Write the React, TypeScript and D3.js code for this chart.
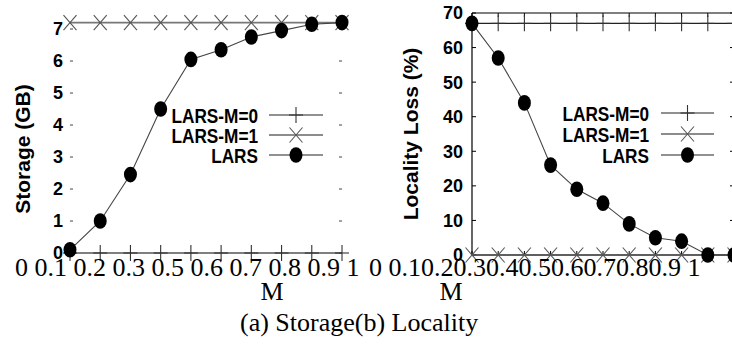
import React from "react";
import * as d3 from "d3";

// ---- data ----
const storageLabels = ["0", "0.1", "0.2", "0.3", "0.5", "0.6", "0.7", "0.8", "0.9", "1"];
const localityLabels = ["0", "0.1", "0.2", "0.3", "0.4", "0.5", "0.6", "0.7", "0.8", "0.9", "1"];
const storageTicks = [0, 1, 2, 3, 4, 5, 6, 7];
const localityTicks = [0, 10, 20, 30, 40, 50, 60, 70];
const storageLars = [0.1, 1.0, 2.45, 4.5, 6.05, 6.35, 6.75, 6.95, 7.15, 7.2];
const storageM0 = [0, 0, 0, 0, 0, 0, 0, 0, 0, 0];
const storageM1 = [7.2, 7.2, 7.2, 7.2, 7.2, 7.2, 7.2, 7.2, 7.2, 7.2];
const localityLars = [67, 57, 44, 26, 19, 15, 9, 5, 4, 0, 0];
const localityM0 = [67, 67, 67, 67, 67, 67, 67, 67, 67, 67, 67];
const localityM1 = [0, 0, 0, 0, 0, 0, 0, 0, 0, 0, 0];
const seriesNames = ["LARS-M=0", "LARS-M=1", "LARS"];
const caption = "(a) Storage(b) Locality";

const SANS = "'Liberation Sans', Arial, Helvetica, sans-serif";
const SERIF = "'Liberation Serif', 'Times New Roman', serif";

const Plus = ({ x, y, c = "#333" }: any) => (
  <g stroke={c} strokeWidth={1.1}>
    <line x1={x - 7} x2={x + 7} y1={y} y2={y} />
    <line x1={x} x2={x} y1={y - 8} y2={y + 8} />
  </g>
);
const Cross = ({ x, y, c = "#555" }: any) => (
  <g stroke={c} strokeWidth={1.1}>
    <line x1={x - 6.5} x2={x + 6.5} y1={y - 7.5} y2={y + 7.5} />
    <line x1={x - 6.5} x2={x + 6.5} y1={y + 7.5} y2={y - 7.5} />
  </g>
);
const Dot = ({ x, y }: any) => <ellipse cx={x} cy={y} rx={6.5} ry={7.8} fill="#000" />;

function Legend({ right, rows, lx1, lx2 }: any) {
  const mx = (lx1 + lx2) / 2;
  return (
    <g>
      {seriesNames.map((n, i) => {
        const y = rows[i];
        return (
          <g key={n}>
            <text
              transform={`translate(${right},${y}) scale(0.82,1)`}
              textAnchor="end"
              dy="0.36em"
              fontFamily={SANS}
              fontWeight="bold"
              fontSize={21}
              fill="#000"
            >
              {n}
            </text>
            <line x1={lx1} x2={lx2} y1={y} y2={y} stroke={i === 1 ? "#666" : "#222"} strokeWidth={i === 1 ? 1.6 : 1.1} />
            {i === 0 && <Plus x={mx} y={y} />}
            {i === 1 && <Cross x={mx} y={y} />}
            {i === 2 && <Dot x={mx} y={y} />}
          </g>
        );
      })}
    </g>
  );
}

export default function App() {
  // left chart
  const xL = d3.scaleLinear().domain([0, storageLars.length - 1]).range([70, 342]);
  const yL = d3.scaleLinear().domain([0, 7]).range([253, 29]);
  const lineL = d3.line<number>().x((_, i) => xL(i)).y((d) => yL(d));

  // right chart
  const xR = d3.scaleLinear().domain([0, localityLars.length - 1]).range([472, 734]);
  const yR = d3.scaleLinear().domain([0, 70]).range([255, 13]);
  const lineR = d3.line<number>().x((_, i) => xR(i)).y((d) => yR(d));

  const leftStr = storageLabels.join(" ");
  const rightStr =
    localityLabels[0] + " " + localityLabels.slice(1, 10).join("") + " " + localityLabels[10];

  return (
    <svg
      width={732}
      height={358}
      style={{ position: "absolute", left: 0, top: 0, background: "#fff" }}
    >
      <rect width={732} height={358} fill="#fff" />

      {/* ---------- left chart: storage ---------- */}
      <g>
        {storageTicks.map((t) => (
          <g key={t}>
            <line x1={xL(0)} x2={xL(0) + 3} y1={yL(t)} y2={yL(t)} stroke="#444" strokeWidth={1} />
            <line x1={xL(9) - 3} x2={xL(9)} y1={yL(t)} y2={yL(t)} stroke="#444" strokeWidth={1} />
            <text
              x={63}
              y={yL(t)}
              dy="0.36em"
              textAnchor="end"
              fontFamily={SANS}
              fontWeight="bold"
              fontSize={18}
            >
              {t}
            </text>
          </g>
        ))}
        <text
          transform={`translate(23,${(yL(0) + yL(7)) / 2 + 8}) rotate(-90)`}
          textAnchor="middle"
          dy="0.35em"
          fontFamily={SANS}
          fontWeight="bold"
          fontSize={21}
        >
          Storage (GB)
        </text>

        <path d={lineL(storageM0) || ""} fill="none" stroke="#555" strokeWidth={1.3} />
        <path d={lineL(storageM1) || ""} fill="none" stroke="#777" strokeWidth={1.6} />
        <path d={lineL(storageLars) || ""} fill="none" stroke="#444" strokeWidth={1.1} />
        {storageM0.map((d, i) => (
          <Plus key={"p" + i} x={xL(i)} y={yL(d)} />
        ))}
        {storageM1.map((d, i) => (
          <Cross key={"c" + i} x={xL(i)} y={yL(d)} />
        ))}
        {storageLars.map((d, i) => (
          <Dot key={"d" + i} x={xL(i)} y={yL(d)} />
        ))}
        <Legend right={258} rows={[115, 135, 155]} lx1={269} lx2={323} />
      </g>

      {/* ---------- right chart: locality ---------- */}
      <g>
        <line x1={xR(0)} x2={xR(0)} y1={yR(70)} y2={yR(0)} stroke="#000" strokeWidth={1.2} />
        <line x1={xR(0)} x2={xR(10)} y1={yR(70)} y2={yR(70)} stroke="#000" strokeWidth={1.2} />
        <line x1={xR(0)} x2={xR(10)} y1={yR(0)} y2={yR(0)} stroke="#000" strokeWidth={1.2} />
        {localityTicks.map((t) => (
          <g key={t}>
            <line x1={xR(0)} x2={xR(0) + 4} y1={yR(t)} y2={yR(t)} stroke="#000" strokeWidth={1} />
            <line x1={xR(10) - 4} x2={xR(10)} y1={yR(t)} y2={yR(t)} stroke="#000" strokeWidth={1} />
            <text
              x={463}
              y={yR(t)}
              dy="0.36em"
              textAnchor="end"
              fontFamily={SANS}
              fontWeight="bold"
              fontSize={18}
            >
              {t}
            </text>
          </g>
        ))}
        {localityLabels.map((_, i) => (
          <g key={"xt" + i}>
            <line x1={xR(i)} x2={xR(i)} y1={yR(70)} y2={yR(70) + 4} stroke="#000" />
            <line x1={xR(i)} x2={xR(i)} y1={yR(0)} y2={yR(0) - 4} stroke="#000" />
          </g>
        ))}
        <text
          transform={`translate(411,${(yR(0) + yR(70)) / 2}) rotate(-90)`}
          textAnchor="middle"
          dy="0.35em"
          fontFamily={SANS}
          fontWeight="bold"
          fontSize={21}
        >
          Locality Loss (%)
        </text>

        <path d={lineR(localityM0) || ""} fill="none" stroke="#222" strokeWidth={1.2} />
        <path d={lineR(localityM1) || ""} fill="none" stroke="#555" strokeWidth={1.4} />
        <path d={lineR(localityLars) || ""} fill="none" stroke="#444" strokeWidth={1.1} />
        {localityM0.map((d, i) => (
          <Plus key={"p" + i} x={xR(i)} y={yR(d)} />
        ))}
        {localityM1.map((d, i) => (
          <Cross key={"c" + i} x={xR(i)} y={yR(d)} />
        ))}
        {localityLars.map((d, i) => (
          <Dot key={"d" + i} x={xR(i)} y={yR(d)} />
        ))}
        <Legend right={649} rows={[113, 134, 155]} lx1={661} lx2={714} />
      </g>

      {/* ---------- page text (serif) ---------- */}
      <text x={15} y={276} fontFamily={SERIF} fontSize={26} fill="#000">
        {leftStr}
      </text>
      <text x={369} y={276} fontFamily={SERIF} fontSize={26} fill="#000">
        {rightStr}
      </text>
      <text x={272} y={300} textAnchor="middle" fontFamily={SERIF} fontSize={26}>
        M
      </text>
      <text x={451} y={300} textAnchor="middle" fontFamily={SERIF} fontSize={26}>
        M
      </text>
      <text x={240} y={331} fontFamily={SERIF} fontSize={26}>
        {caption}
      </text>
    </svg>
  );
}
